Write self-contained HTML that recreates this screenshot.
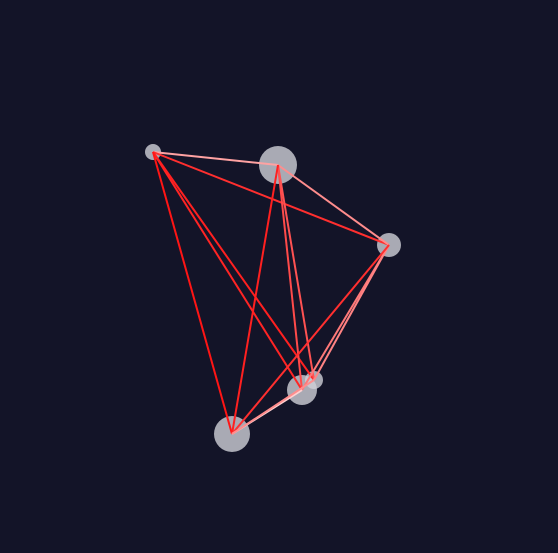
<!DOCTYPE html>
<html><head><meta charset="utf-8"><style>
html,body{margin:0;padding:0;background:#131428;}
svg{display:block;}
</style></head><body>
<svg id="chart" width="558" height="553" viewBox="0 0 558 553">
<rect width="558" height="553" fill="#131428"/>
<g id="edges"></g>
<g id="nodes"></g>
</svg>
<script>
const nodeIds = ["a","b","c","d","e","f"];
const nodeX = [153,278,389,302,314,232];
const nodeY = [152,165,245,390,380,434];
const nodeSize = [8,19,12,15,9,18];
const edgeSource = ["a","a","a","a","a","b","b","b","b","c","c","c","d","e"];
const edgeTarget = ["b","c","d","e","f","c","d","e","f","d","e","f","f","f"];
const edgeWeight = [0.7,0.15,0.1,0.08,0.03,0.6,0.28,0.32,0.08,0.5,0.55,0.15,0.92,0.6];
const NS="http://www.w3.org/2000/svg";
const eg=document.getElementById('edges'), ng=document.getElementById('nodes');
function col(w){const g=Math.round(15+w*(225-15));return `rgb(255,${g},${g})`;}
for(let i=0;i<nodeIds.length;i++){
  const c=document.createElementNS(NS,'circle');
  c.setAttribute('cx',nodeX[i]);c.setAttribute('cy',nodeY[i]);c.setAttribute('r',nodeSize[i]);
  c.setAttribute('fill','rgba(208,208,215,0.8)');
  
  
  ng.appendChild(c);
}
for(let i=0;i<edgeSource.length;i++){
  const s=nodeIds.indexOf(edgeSource[i]), t=nodeIds.indexOf(edgeTarget[i]);
  const l=document.createElementNS(NS,'line');
  l.setAttribute('x1',nodeX[s]);l.setAttribute('y1',nodeY[s]);
  l.setAttribute('x2',nodeX[t]);l.setAttribute('y2',nodeY[t]);
  l.setAttribute('stroke',col(edgeWeight[i]));l.setAttribute('stroke-width','2');
  
  
  eg.appendChild(l);
}
document.getElementById('chart').appendChild(eg);
</script>
</body></html>
